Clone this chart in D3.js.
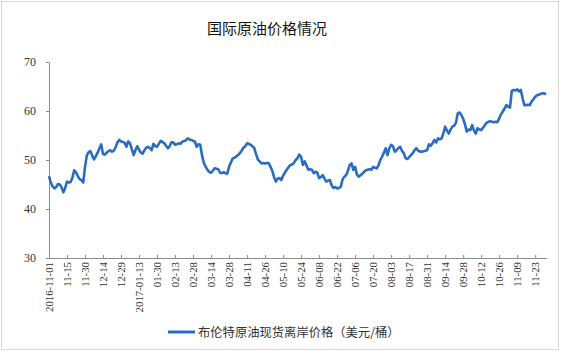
<!DOCTYPE html>
<html>
<head>
<meta charset="utf-8">
<script src="https://cdn.jsdelivr.net/npm/d3@7"></script>
<style>
  body { margin: 0; background: #fff; }
</style>
</head>
<body>
<div id="chart"></div>
<script>
// Brent spot FOB price, one value per trading day (2016-11-01 .. 2017-12-01)
const prices = [
  46.7, 45.4, 44.6, 44.2, 44.5, 45.1, 45.0, 44.4, 43.4, 44.3,
  45.6, 45.4, 45.5, 46.4, 47.9, 47.5, 46.7, 46.1, 45.9, 45.4,
  48.6, 50.9, 51.6, 51.8, 50.9, 50.1, 50.8, 51.5, 52.4, 53.2,
  51.2, 51.1, 51.5, 51.8, 52.0, 51.7, 51.9, 52.6, 53.6, 54.1,
  53.8, 53.7, 53.5, 52.7, 53.8, 53.4, 52.2, 51.0, 52.0, 52.8,
  52.1, 51.5, 51.3, 52.0, 52.5, 52.7, 52.4, 52.0, 53.3, 52.9,
  52.7, 53.3, 53.9, 53.7, 53.4, 52.9, 52.4, 52.8, 53.6, 53.6,
  53.1, 53.2, 53.4, 53.3, 53.7, 53.9, 54.0, 54.4, 54.2, 54.1,
  53.9, 53.8, 52.7, 53.2, 53.1, 50.9, 49.4, 48.6, 48.0, 47.6,
  47.4, 47.8, 48.3, 48.2, 48.1, 47.4, 47.3, 47.5, 47.3, 47.2,
  48.6, 49.5, 50.3, 50.5, 50.7, 51.0, 51.4, 51.9, 52.5, 52.8,
  53.4, 53.3, 53.1, 52.8, 52.4, 51.2, 50.1, 49.7, 49.3, 49.4,
  49.3, 49.4, 49.4, 48.6, 47.8, 46.5, 45.6, 46.2, 46.3, 45.9,
  46.8, 47.4, 48.0, 48.5, 49.0, 49.1, 49.4, 50.0, 50.4, 51.1,
  50.6, 49.0, 49.7, 48.9, 48.0, 48.1, 48.0, 47.3, 47.6, 47.4,
  46.3, 46.5, 46.9, 46.2, 45.6, 45.8, 45.9, 44.8, 44.3, 44.5,
  44.2, 44.3, 44.5, 46.0, 46.6, 46.9, 47.8, 49.0, 49.3, 48.0,
  48.6, 47.0, 46.6, 46.9, 47.2, 47.6, 47.9, 48.0, 48.1, 48.0,
  48.6, 48.4, 48.3, 48.9, 50.0, 50.7, 51.5, 52.4, 51.0, 52.4,
  53.1, 52.8, 51.7, 52.0, 52.4, 52.7, 51.9, 51.4, 50.4, 50.2,
  50.6, 51.0, 51.4, 52.0, 52.4, 51.9, 51.7, 51.7, 51.8, 51.9,
  52.0, 53.2, 52.9, 53.4, 54.1, 53.6, 54.4, 54.2, 54.4, 55.4,
  56.8, 56.0, 55.4, 56.2, 56.8, 57.0, 57.6, 59.5, 59.7, 59.2,
  58.4, 57.3, 55.8, 56.2, 56.1, 57.1, 56.0, 55.4, 56.5, 56.2,
  56.1, 56.6, 57.1, 57.6, 57.8, 57.9, 57.8, 57.7, 57.8, 57.7,
  58.5, 59.3, 59.9, 60.5, 61.2, 60.9, 60.7, 64.1, 64.3, 64.2,
  64.4, 64.0, 64.3, 62.6, 61.2, 61.2, 61.3, 61.2, 61.9, 62.4,
  62.9, 63.2, 63.3, 63.5, 63.6, 63.6, 63.4
];

// one label every 10 trading days
const tickLabels = [
  "2016-11-01", "11-15", "11-30", "12-14", "12-29", "2017-01-13", "01-30",
  "02-13", "02-28", "03-14", "03-28", "04-11", "04-26", "05-10", "05-24",
  "06-08", "06-22", "07-06", "07-20", "08-03", "08-17", "08-31", "09-14",
  "09-28", "10-12", "10-26", "11-09", "11-23"
];
const tickStep = 10;
const yTicks = [30, 40, 50, 60, 70];

const title = "国际原油价格情况";
const seriesName = "布伦特原油现货离岸价格（美元/桶）";

const width = 563, height = 353;
const plotLeft = 49, plotRight = 546, plotTop = 62, plotBottom = 258;

const svg = d3.select("#chart").append("svg")
  .attr("width", width)
  .attr("height", height);

// frame
svg.append("rect")
  .attr("x", 1.5).attr("y", 1.5)
  .attr("width", 557).attr("height", 348)
  .attr("fill", "#fff")
  .attr("stroke", "#d9d9d9");

svg.append("text")
  .attr("x", 267).attr("y", 34)
  .attr("text-anchor", "middle")
  .style("font-family", "'Noto Sans CJK SC', sans-serif")
  .style("font-size", "15px")
  .style("fill", "#111")
  .text(title);

const x = d3.scaleLinear().domain([0, prices.length - 1]).range([plotLeft, plotRight]);
const y = d3.scaleLinear().domain([30, 70]).range([plotBottom, plotTop]);

// y axis
const yAxis = svg.append("g")
  .attr("transform", `translate(${plotLeft},0)`)
  .call(d3.axisLeft(y).tickValues(yTicks).tickSize(3).tickPadding(10).tickSizeOuter(0));
yAxis.select(".domain").attr("stroke", "#8c8c8c");
yAxis.selectAll(".tick line").attr("stroke", "#8c8c8c");
yAxis.selectAll("text")
  .style("font-family", "'Liberation Serif', serif")
  .style("font-size", "12px")
  .style("fill", "#333");

// x axis (ticks pointing up into the plot)
const xTickIdx = tickLabels.map((d, i) => i * tickStep);
const xAxis = svg.append("g")
  .attr("transform", `translate(0,${plotBottom})`)
  .call(d3.axisBottom(x).tickValues(xTickIdx)
    .tickFormat((d, i) => tickLabels[i])
    .tickSize(0).tickSizeOuter(0));
xAxis.select(".domain").attr("stroke", "#8c8c8c").attr("d", `M${plotLeft},0.5H${plotRight + 1}`);
xAxis.selectAll(".tick line").attr("y2", -3).attr("stroke", "#8c8c8c");
xAxis.selectAll("text")
  .attr("transform", "rotate(-90)")
  .attr("x", -4).attr("y", 0).attr("dy", "0.35em")
  .attr("text-anchor", "end")
  .style("font-family", "'Liberation Serif', serif")
  .style("font-size", "10.8px")
  .style("fill", "#333");

// price line
const line = d3.line()
  .x((d, i) => x(i))
  .y(d => y(d));

svg.append("path")
  .datum(prices)
  .attr("d", line)
  .attr("fill", "none")
  .attr("stroke", "#2a6dc0")
  .attr("stroke-width", 2.6)
  .attr("stroke-linejoin", "round");

// legend
const legend = svg.append("g").attr("transform", "translate(168,332)");
legend.append("line")
  .attr("x1", 0).attr("x2", 27)
  .attr("stroke", "#2a6dc0")
  .attr("stroke-width", 3);
legend.append("text")
  .attr("x", 30).attr("y", 4.5)
  .style("font-family", "'Noto Sans CJK SC', sans-serif")
  .style("font-size", "12.3px")
  .style("fill", "#333")
  .text(seriesName);
</script>
</body>
</html>
